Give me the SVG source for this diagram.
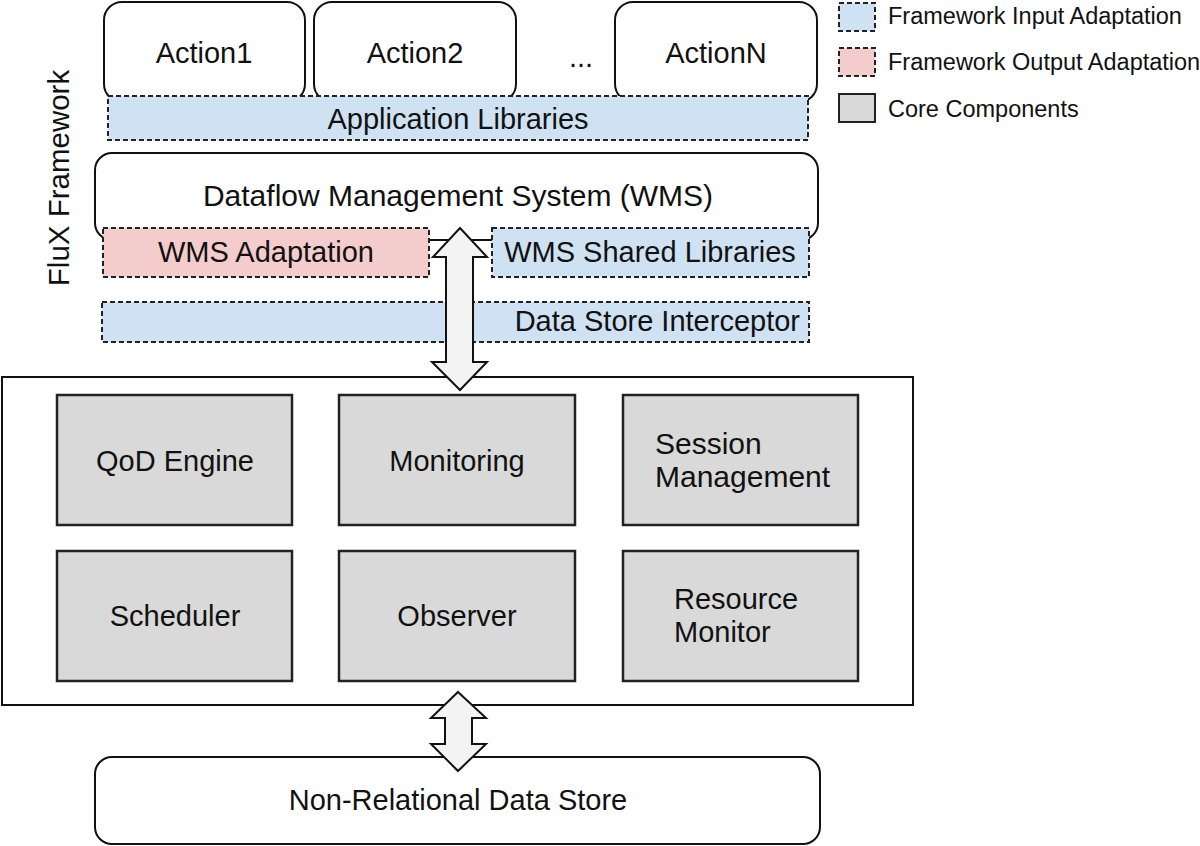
<svg xmlns="http://www.w3.org/2000/svg" width="1200" height="846" viewBox="0 0 1200 846">
<style>
text{font-family:"Liberation Sans",Arial,sans-serif;fill:#111;}
.t{font-size:29px;}
.lg{font-size:23.5px;}
.mid{text-anchor:middle;}
.round{fill:#fff;stroke:#111;stroke-width:2;}
.in{fill:#cfe2f3;stroke:#222;stroke-width:2;stroke-dasharray:5 3;}
.out{fill:#f4cccc;stroke:#222;stroke-width:2;stroke-dasharray:5 3;}
.core{fill:#d9d9d9;stroke:#222;stroke-width:2.5;}
.arrow{fill:#f3f3f3;stroke:#111;stroke-width:2;stroke-linejoin:miter;}
</style>
<rect width="1200" height="846" fill="#fff"/>

<g id="legend">
<rect x="839" y="3" width="36" height="28" class="in"/>
<text x="888" y="24" class="lg">Framework Input Adaptation</text>
<rect x="839" y="48" width="36" height="28" class="out"/>
<text x="888" y="70" class="lg">Framework Output Adaptation</text>
<rect x="839" y="94" width="36" height="28" fill="#d9d9d9" stroke="#222" stroke-width="2"/>
<text x="888" y="117" class="lg">Core Components</text>
</g>

<g id="flux-label">
<text transform="translate(69,178) rotate(-90)" class="t mid" style="font-size:29.5px">FluX Framework</text>
</g>

<g id="action1">
<rect x="104" y="2" width="201" height="100" rx="18" class="round"/>
<text x="204" y="63" class="t mid">Action1</text>
</g>
<g id="action2">
<rect x="314" y="2" width="202" height="100" rx="18" class="round"/>
<text x="415" y="63" class="t mid">Action2</text>
</g>
<g id="ellipsis">
<text x="581" y="67" class="t mid">...</text>
</g>
<g id="actionN">
<rect x="615" y="2" width="202" height="100" rx="18" class="round"/>
<text x="716" y="63" class="t mid">ActionN</text>
</g>

<g id="app-libraries">
<rect x="108" y="96" width="700" height="44" class="in"/>
<text x="458" y="129" class="t mid">Application Libraries</text>
</g>

<g id="wms">
<rect x="95" y="153" width="723" height="87" rx="17" class="round"/>
<text x="458" y="206" class="t mid" style="font-size:30px">Dataflow Management System (WMS)</text>
</g>

<g id="wms-adaptation">
<rect x="103" y="228" width="326" height="49" class="out"/>
<text x="266" y="262" class="t mid">WMS Adaptation</text>
</g>

<g id="wms-shared-libraries">
<rect x="492" y="228" width="317" height="49" class="in"/>
<text x="650" y="262" class="t mid">WMS Shared Libraries</text>
</g>

<g id="data-store-interceptor">
<rect x="102" y="302" width="707" height="40" class="in"/>
<text x="800" y="331" class="t" text-anchor="end">Data Store Interceptor</text>
</g>

<g id="core">
<rect x="2" y="377" width="911" height="328" fill="#fff" stroke="#111" stroke-width="2"/>
</g>

<g id="qod-engine">
<rect x="57" y="395" width="235" height="130" class="core"/>
<text x="175" y="471" class="t mid">QoD Engine</text>
</g>
<g id="monitoring">
<rect x="339" y="395" width="236" height="130" class="core"/>
<text x="457" y="471" class="t mid">Monitoring</text>
</g>
<g id="session-management">
<rect x="623" y="395" width="235" height="130" class="core"/>
<text x="655" y="454" class="t" style="font-size:30px">Session</text>
<text x="655" y="487" class="t" style="font-size:30px">Management</text>
</g>
<g id="scheduler">
<rect x="57" y="551" width="235" height="130" class="core"/>
<text x="175" y="626" class="t mid">Scheduler</text>
</g>
<g id="observer">
<rect x="339" y="551" width="236" height="130" class="core"/>
<text x="457" y="626" class="t mid">Observer</text>
</g>
<g id="resource-monitor">
<rect x="623" y="551" width="235" height="130" class="core"/>
<text x="674" y="609" class="t">Resource</text>
<text x="674" y="642" class="t">Monitor</text>
</g>

<g id="non-relational-data-store">
<rect x="95" y="757" width="725" height="87" rx="17" class="round"/>
<text x="458" y="810" class="t mid">Non-Relational Data Store</text>
</g>

<g id="connectors">
<polygon class="arrow" points="460,228 487,257 473,257 473,362 487,362 460,390 432,362 446,362 446,257 433,257"/>
<polygon class="arrow" points="458,692 486,718 472,718 472,744 486,744 458,771 431,744 445,744 445,718 431,718"/>
</g>
</svg>
